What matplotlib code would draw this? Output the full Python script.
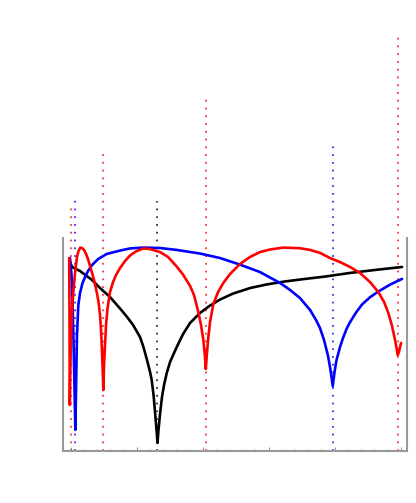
import numpy as np
import matplotlib
matplotlib.use("Agg")
import matplotlib.pyplot as plt
from matplotlib.ticker import MultipleLocator, NullFormatter

# curves (x in major-tick units, y as fraction of axes height)
black_x = [-0.015, 0.023, 0.144, 0.326, 0.447, 0.598, 0.750, 0.852, 0.947, 1.053,
           1.103, 1.159, 1.205, 1.230, 1.258, 1.280, 1.303, 1.318, 1.333, 1.356,
           1.386, 1.417, 1.458, 1.508, 1.609, 1.705, 1.811, 1.962, 2.114, 2.265,
           2.462, 2.720, 2.973, 3.250, 3.477, 3.856, 4.235, 4.614, 5.023]
black_y = [0.892, 0.864, 0.845, 0.803, 0.765, 0.723, 0.669, 0.631, 0.592, 0.535,
           0.490, 0.427, 0.371, 0.333, 0.263, 0.183, 0.099, 0.038, 0.099, 0.174,
           0.254, 0.310, 0.366, 0.418, 0.488, 0.549, 0.601, 0.648, 0.683, 0.711,
           0.739, 0.765, 0.782, 0.796, 0.805, 0.819, 0.836, 0.850, 0.864]

red_x = [-0.020, -0.015, -0.011, -0.003, 0.008, 0.023, 0.045, 0.068, 0.098, 0.121,
         0.148, 0.174, 0.205, 0.235, 0.265, 0.295, 0.326, 0.356, 0.397, 0.424,
         0.447, 0.462, 0.473, 0.485, 0.497, 0.508, 0.523, 0.538, 0.561, 0.598,
         0.644, 0.689, 0.750, 0.826, 0.902, 0.992, 1.103, 1.205, 1.356, 1.477,
         1.609, 1.705, 1.811, 1.871, 1.936, 1.977, 2.012, 2.035, 2.050, 2.065,
         2.088, 2.114, 2.164, 2.235, 2.315, 2.417, 2.568, 2.720, 2.871, 3.023,
         3.224, 3.477, 3.629, 3.780, 3.932, 4.083, 4.235, 4.386, 4.538, 4.664,
         4.750, 4.815, 4.871, 4.917, 4.939, 4.958, 4.977, 4.992, 5.008]
red_y = [0.906, 0.568, 0.216, 0.380, 0.545, 0.662, 0.756, 0.836, 0.911, 0.939,
         0.955, 0.953, 0.944, 0.925, 0.901, 0.869, 0.836, 0.803, 0.746, 0.700,
         0.638, 0.568, 0.498, 0.404, 0.286, 0.404, 0.498, 0.592, 0.671, 0.746,
         0.793, 0.826, 0.859, 0.892, 0.918, 0.937, 0.951, 0.948, 0.934, 0.911,
         0.866, 0.828, 0.775, 0.732, 0.653, 0.592, 0.521, 0.451, 0.385, 0.451,
         0.535, 0.606, 0.690, 0.746, 0.789, 0.831, 0.878, 0.911, 0.934, 0.946,
         0.955, 0.952, 0.944, 0.930, 0.906, 0.887, 0.864, 0.836, 0.793, 0.746,
         0.700, 0.648, 0.587, 0.521, 0.484, 0.451, 0.465, 0.488, 0.507]

blue_x = [-0.008, 0.015, 0.030, 0.045, 0.061, 0.073, 0.083, 0.098, 0.118, 0.144,
          0.182, 0.220, 0.265, 0.326, 0.417, 0.548, 0.750, 0.902, 1.098, 1.356,
          1.609, 1.962, 2.265, 2.568, 2.871, 3.174, 3.326, 3.477, 3.629, 3.720,
          3.780, 3.841, 3.902, 3.939, 3.973, 4.000, 4.030, 4.083, 4.129, 4.185,
          4.235, 4.326, 4.417, 4.538, 4.659, 4.841, 5.023]
blue_y = [0.906, 0.826, 0.709, 0.521, 0.286, 0.099, 0.286, 0.545, 0.685, 0.742,
          0.789, 0.817, 0.845, 0.873, 0.901, 0.925, 0.941, 0.951, 0.955, 0.953,
          0.944, 0.927, 0.906, 0.875, 0.840, 0.789, 0.756, 0.718, 0.662, 0.615,
          0.577, 0.521, 0.446, 0.380, 0.305, 0.371, 0.427, 0.488, 0.531, 0.575,
          0.605, 0.650, 0.688, 0.722, 0.748, 0.781, 0.808]

# dotted markers at the dips
mark_x = [0.003, 0.073, 0.495, 1.315, 2.052, 3.980, 4.958]
mark_top = [1.160, 1.183, 1.408, 1.174, 1.659, 1.432, 1.945]
mark_col = ["red", "blue", "red", "black", "red", "blue", "red"]

fig = plt.figure(figsize=(4.16, 5.03), dpi=100)
ax = fig.add_axes([63 / 416, 52 / 503, 344 / 416, 213 / 503])

for x, top, c in zip(mark_x, mark_top, mark_col):
    ln, = ax.plot([x, x], [0, top], color=c, lw=1.3, alpha=0.8, clip_on=False)
    ln.set_dashes([1, 3.3])

for xs, ys, c in [(black_x, black_y, "black"), (blue_x, blue_y, "blue"), (red_x, red_y, "red")]:
    ax.plot(xs, ys, color=c, lw=1.9, solid_joinstyle="round", solid_capstyle="round")

ax.set_xlim(-0.114, 5.098)
ax.set_ylim(0, 1)

for s in ["left", "right", "bottom"]:
    ax.spines[s].set_color("#999999")
    ax.spines[s].set_linewidth(1.5)
ax.spines["top"].set_visible(False)

ax.xaxis.set_major_locator(MultipleLocator(1))
ax.xaxis.set_minor_locator(MultipleLocator(0.2))
ax.xaxis.set_major_formatter(NullFormatter())
ax.tick_params(axis="x", which="major", direction="in", length=3, width=0.8, color="#999999")
ax.tick_params(axis="x", which="minor", direction="in", length=1.5, width=0.6, color="#999999")
ax.set_yticks([])

fig.savefig("out.png", dpi=100)
